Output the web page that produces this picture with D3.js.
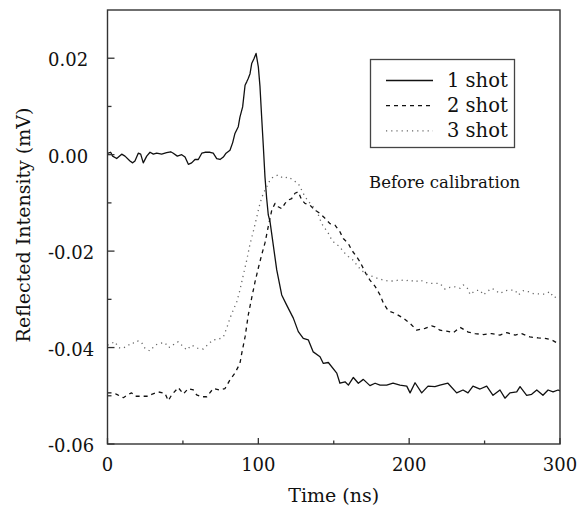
<!DOCTYPE html>
<html>
<head>
<meta charset="utf-8">
<script src="https://cdn.jsdelivr.net/npm/d3@7.9.0/dist/d3.min.js"></script>
<style>
  body { margin: 0; background: #fff; }
  svg { display: block; }
  text { font-family: "DejaVu Serif", serif; fill: #111; }
</style>
</head>
<body>
<svg id="chart" width="581" height="506"></svg>
<script>
// data (time in ns, intensity in mV)
const shot1Time = [0, 0.5, 2.1, 3.4, 6.1, 9.4, 11.6, 14.9, 16.7, 18.2, 20.4, 22, 23.7, 26, 28.2, 30.4, 32.6, 35.9, 39.2, 41.9, 43.6, 46.3, 49.2, 51.4, 53.6, 55.8, 58, 60.2, 62.5, 64.6, 68, 70.1, 72.4, 74.6, 76.8, 78.6, 81.2, 83, 84.5, 86.7, 87.8, 89.6, 91.2, 92.3, 93.3, 94.5, 95.6, 97.1, 98.5, 100, 101.1, 102.2, 103.3, 104.4, 105.5, 106.6, 107.7, 112.2, 115.5, 118.8, 123.2, 126.5, 129.8, 133.1, 136.4, 140.9, 143.1, 146.4, 152, 154.1, 157.5, 159.7, 163, 166.3, 169.6, 174, 177.4, 180.7, 185.1, 189.3, 193.9, 198.4, 200.6, 203.9, 208.3, 212.5, 217.1, 220.4, 225.7, 231.5, 235.7, 239, 242.3, 247, 251.4, 255.6, 260.2, 263.5, 266.8, 271.3, 273.5, 277.9, 281.2, 284.6, 288.7, 292.1, 295.4, 298.7, 300];
const shot1Value = [0.0003, 0.0003, 0.0005, -0.0003, -0.0008, 0.0001, -0.0003, -0.0013, -0.0017, -0.0013, 0.0003, 0.0001, -0.0017, -0.0003, 0.0005, 0.0001, 0.0003, 0.0001, 0.0004, 0.0006, 0.0003, -0.0003, 0, -0.0005, -0.002, -0.0017, -0.001, -0.001, 0.0003, 0.0005, 0.0005, 0.0003, -0.0008, -0.001, -0.0005, 0.0003, 0.0009, 0.0025, 0.0044, 0.0058, 0.0078, 0.0099, 0.0144, 0.0151, 0.0158, 0.0168, 0.0189, 0.0199, 0.021, 0.0182, 0.0141, 0.0078, 0.0018, -0.0046, -0.009, -0.0125, -0.0138, -0.0239, -0.0291, -0.0312, -0.0339, -0.0367, -0.0381, -0.0384, -0.0409, -0.0419, -0.0433, -0.0431, -0.0453, -0.0474, -0.0471, -0.0478, -0.0462, -0.0474, -0.0466, -0.0479, -0.0474, -0.0478, -0.0478, -0.0474, -0.0478, -0.048, -0.0494, -0.0473, -0.0494, -0.048, -0.0481, -0.0478, -0.0474, -0.0494, -0.0488, -0.0494, -0.048, -0.0486, -0.048, -0.0499, -0.0488, -0.0505, -0.0494, -0.0492, -0.0481, -0.0499, -0.0497, -0.0488, -0.0499, -0.0488, -0.0492, -0.0488, -0.049];

const shot2Time = [0, 3.8, 6.1, 10.5, 13.8, 16, 18.2, 21.5, 27.1, 29.3, 33.7, 38.1, 40.3, 42.6, 46.9, 50.3, 53.6, 56.9, 59.1, 62.5, 65.8, 70.1, 74.6, 77.9, 81.2, 84.5, 87.8, 89, 91.2, 93.3, 95.6, 97.8, 100, 102.2, 104.4, 106.4, 108.9, 111.1, 113.2, 115.5, 117.7, 119.9, 122.1, 124.3, 126.5, 128.8, 130.9, 134.3, 137.6, 140.9, 144.2, 147.5, 150.8, 154.1, 156.3, 159.6, 161.9, 165.2, 167.4, 169.6, 171.9, 174, 177.4, 180.7, 182.9, 186.2, 190.6, 196.1, 200.6, 205, 210.5, 214.9, 217.1, 220.4, 224.9, 229.3, 233.7, 239.2, 243.7, 249.2, 254.7, 260.2, 264.7, 270.2, 274.6, 280.1, 285.6, 290.1, 294.5, 297.8, 300];
const shot2Value = [-0.0494, -0.0494, -0.0497, -0.0504, -0.0497, -0.0494, -0.0501, -0.0501, -0.0501, -0.0497, -0.0492, -0.0495, -0.051, -0.0498, -0.0483, -0.0496, -0.0485, -0.0488, -0.0498, -0.0502, -0.0502, -0.0485, -0.0488, -0.0485, -0.0467, -0.0453, -0.0433, -0.0412, -0.0378, -0.0333, -0.0297, -0.0264, -0.0235, -0.0208, -0.0183, -0.0152, -0.0115, -0.0101, -0.0108, -0.0112, -0.0101, -0.0094, -0.0091, -0.008, -0.0077, -0.0094, -0.0101, -0.0105, -0.0115, -0.0122, -0.0132, -0.0143, -0.0146, -0.016, -0.0174, -0.0184, -0.0198, -0.0212, -0.0222, -0.0236, -0.025, -0.026, -0.0273, -0.0291, -0.0308, -0.0324, -0.0329, -0.0339, -0.035, -0.0364, -0.036, -0.0355, -0.0357, -0.0364, -0.0366, -0.0369, -0.0358, -0.0368, -0.0371, -0.0373, -0.0371, -0.0374, -0.0369, -0.0374, -0.0371, -0.0378, -0.038, -0.0381, -0.0384, -0.039, -0.0391];

const shot3Time = [0, 2.8, 5, 7.2, 9.4, 12.7, 16, 18.2, 20.4, 22.7, 24.9, 28.2, 31.5, 34.8, 38.1, 40.3, 42.6, 44.8, 46.9, 49.2, 52.5, 55.8, 60.2, 63.5, 66.8, 70.1, 73.5, 76.8, 79, 81.2, 83.4, 85.7, 87.8, 90, 92.3, 94.5, 96.7, 98.9, 101.1, 103.3, 105.5, 107.7, 109.9, 113.2, 116.6, 119.9, 123.2, 126.5, 128.8, 130.9, 134.3, 137.6, 139.8, 142, 144.2, 146.4, 148.7, 150.8, 154.1, 156.3, 159.6, 163, 166.3, 169.6, 172.9, 176.2, 179.5, 182.9, 186.2, 190.6, 193.9, 197.2, 200.6, 203.9, 207.2, 210.5, 212.7, 217.1, 220.4, 223.8, 227.1, 230.4, 233.7, 235.9, 239.2, 240.3, 243.7, 247, 249.2, 252.5, 254.7, 256.9, 260.2, 263.5, 266.8, 270.2, 272.4, 275.7, 279, 282.3, 286.7, 290.1, 293.4, 295.6, 298.9, 300];
const shot3Value = [-0.0395, -0.0391, -0.0388, -0.04, -0.0402, -0.0398, -0.039, -0.0391, -0.0386, -0.039, -0.0402, -0.0407, -0.0395, -0.0391, -0.039, -0.04, -0.0398, -0.039, -0.0388, -0.0395, -0.0405, -0.0395, -0.0402, -0.0403, -0.0393, -0.0384, -0.0383, -0.0378, -0.036, -0.0339, -0.0322, -0.0305, -0.0281, -0.025, -0.0219, -0.0185, -0.0159, -0.013, -0.0101, -0.008, -0.0067, -0.0053, -0.0046, -0.0042, -0.0049, -0.0046, -0.0053, -0.006, -0.0074, -0.0087, -0.0101, -0.0112, -0.0125, -0.0143, -0.0153, -0.0163, -0.0177, -0.0184, -0.0191, -0.0201, -0.0211, -0.0219, -0.0233, -0.0243, -0.025, -0.0253, -0.0257, -0.026, -0.0262, -0.0262, -0.0259, -0.0262, -0.026, -0.0264, -0.026, -0.0264, -0.0267, -0.0267, -0.0267, -0.0279, -0.0275, -0.0274, -0.0277, -0.027, -0.0279, -0.029, -0.0282, -0.0281, -0.0291, -0.0282, -0.0277, -0.0281, -0.0288, -0.0282, -0.0281, -0.0281, -0.0291, -0.0282, -0.0284, -0.0288, -0.0289, -0.0289, -0.0284, -0.0296, -0.0295, -0.0295];

const seriesNames = ["1 shot", "2 shot", "3 shot"];
const xMajorTicks = [0, 100, 200, 300];
const xMinorTicks = [50, 150, 250];
const yMajorTicks = [0.02, 0, -0.02, -0.04, -0.06];
const yMinorTicks = [0.01, -0.01, -0.03, -0.05];
const annotation = "Before calibration";

const svg = d3.select("#chart");
const margin = { left: 107.5, right: 21, top: 10, bottom: 62 };
const width = 581 - margin.left - margin.right;
const height = 506 - margin.top - margin.bottom;

const x = d3.scaleLinear().domain([0, 300]).range([margin.left, margin.left + width]);
const y = d3.scaleLinear().domain([-0.06, 0.03]).range([margin.top + height, margin.top]);

// line styles per series
const styles = [
  { stroke: "#111", dash: null, w: 1.3 },
  { stroke: "#111", dash: "4,4", w: 1.3 },
  { stroke: "#666", dash: "1.2,4", w: 1.3 }
];

const series = [
  d3.zip(shot1Time, shot1Value),
  d3.zip(shot2Time, shot2Value),
  d3.zip(shot3Time, shot3Value)
];

svg.append("clipPath").attr("id", "plot-clip")
  .append("rect")
  .attr("x", margin.left).attr("y", margin.top)
  .attr("width", width).attr("height", height);

const line = d3.line().x(d => x(d[0])).y(d => y(d[1]));

const plot = svg.append("g").attr("clip-path", "url(#plot-clip)");
series.forEach((s, i) => {
  plot.append("path")
    .attr("d", line(s))
    .attr("fill", "none")
    .attr("stroke", styles[i].stroke)
    .attr("stroke-width", styles[i].w)
    .attr("stroke-dasharray", styles[i].dash)
    .attr("stroke-linejoin", "round");
});

// frame
svg.append("rect")
  .attr("x", margin.left).attr("y", margin.top)
  .attr("width", width).attr("height", height)
  .attr("fill", "none").attr("stroke", "#333").attr("stroke-width", 1.4);

// inward ticks
const ticks = svg.append("g").attr("stroke", "#333").attr("stroke-width", 1.3);
xMajorTicks.forEach(t => ticks.append("line")
  .attr("x1", x(t)).attr("x2", x(t)).attr("y1", y(-0.06)).attr("y2", y(-0.06) - 6));
xMinorTicks.forEach(t => ticks.append("line")
  .attr("x1", x(t)).attr("x2", x(t)).attr("y1", y(-0.06)).attr("y2", y(-0.06) - 3.5));
yMajorTicks.forEach(t => ticks.append("line")
  .attr("x1", x(0)).attr("x2", x(0) + 7).attr("y1", y(t)).attr("y2", y(t)));
yMinorTicks.forEach(t => ticks.append("line")
  .attr("x1", x(0)).attr("x2", x(0) + 4).attr("y1", y(t)).attr("y2", y(t)));

// tick labels
const fmtY = d3.format(".2f");
svg.append("g").selectAll("text").data(xMajorTicks).join("text")
  .attr("x", d => x(d)).attr("y", 471)
  .attr("text-anchor", "middle")
  .style("font-size", "18px")
  .text(d => d);

svg.append("g").selectAll("text").data(yMajorTicks).join("text")
  .attr("x", 48).attr("y", d => y(d) + 8)
  .style("font-size", "18px")
  .text(d => fmtY(d).replace("−", "-"));

// axis titles
svg.append("text")
  .attr("x", margin.left + width / 2).attr("y", 502)
  .attr("text-anchor", "middle")
  .style("font-size", "19px")
  .text("Time (ns)");

svg.append("text")
  .attr("transform", `translate(30, ${margin.top + height / 2 - 2}) rotate(-90)`)
  .attr("text-anchor", "middle")
  .style("font-size", "19px")
  .text("Reflected Intensity (mV)");

// legend
const legend = svg.append("g");
legend.append("rect")
  .attr("x", 370.5).attr("y", 59.5).attr("width", 144).attr("height", 88)
  .attr("fill", "#fff").attr("stroke", "#444").attr("stroke-width", 1.3);

seriesNames.forEach((name, i) => {
  const ly = 80.5 + i * 25.2;
  legend.append("line")
    .attr("x1", 386).attr("x2", 433).attr("y1", ly).attr("y2", ly)
    .attr("stroke", styles[i].stroke)
    .attr("stroke-width", styles[i].w)
    .attr("stroke-dasharray", styles[i].dash);
  legend.append("text")
    .attr("x", 447).attr("y", ly + 6.5)
    .style("font-size", "19.5px")
    .text(name);
});

svg.append("text")
  .attr("x", 369).attr("y", 188)
  .style("font-size", "16.5px")
  .text(annotation);
</script>
</body>
</html>
